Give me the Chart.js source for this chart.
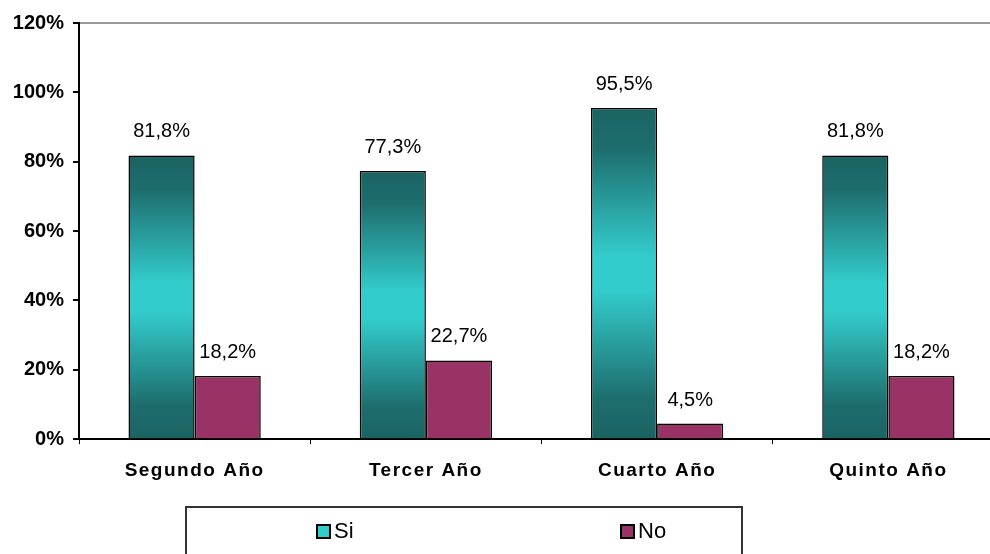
<!DOCTYPE html>
<html>
<head>
<meta charset="utf-8">
<script src="https://cdn.jsdelivr.net/npm/chart.js@4.4.1/dist/chart.umd.min.js"></script>
<style>
  html, body { margin: 0; padding: 0; background: #fff; overflow: hidden; }
  /* plot runs a little past the right edge, as in the original */
  #wrap { width: 1004px; height: 554px; }
</style>
</head>
<body>
<div id="wrap"><canvas id="chart"></canvas></div>
<script>
const categories = ["Segundo Año", "Tercer Año", "Cuarto Año", "Quinto Año"];
const siValues = [81.8, 77.3, 95.5, 81.8];
const noValues = [18.2, 22.7, 4.5, 18.2];
const yTicks = [0, 20, 40, 60, 80, 100, 120];

const FONT = "'Liberation Sans', Arial, sans-serif";

function pct(v) {
  return v.toFixed(1).replace(".", ",") + "%";
}

// vertical gradient per bar: dark teal at the ends, cyan in the middle
function siGradient(context) {
  const chart = context.chart;
  const y = chart.scales.y;
  if (!y || context.raw === undefined) return "#33cccc";
  const top = y.getPixelForValue(context.raw);
  const bottom = y.getPixelForValue(0);
  if (!isFinite(top) || !isFinite(bottom) || top === bottom) return "#33cccc";
  const g = chart.ctx.createLinearGradient(0, top, 0, bottom);
  g.addColorStop(0, "#1b6363");
  g.addColorStop(0.12, "#1e6d6d");
  g.addColorStop(0.45, "#33cccc");
  g.addColorStop(0.55, "#33cccc");
  g.addColorStop(0.88, "#1e6d6d");
  g.addColorStop(1, "#1b6363");
  return g;
}

const valueLabels = {
  id: "valueLabels",
  afterDatasetsDraw(chart) {
    const ctx = chart.ctx;
    ctx.save();
    ctx.font = "20px " + FONT;
    ctx.fillStyle = "#000";
    ctx.textAlign = "center";
    ctx.textBaseline = "alphabetic";
    chart.data.datasets.forEach((ds, i) => {
      chart.getDatasetMeta(i).data.forEach((bar, j) => {
        ctx.fillText(pct(ds.data[j]), bar.x, bar.y - 18);
      });
    });
    ctx.restore();
  },
};

const boxLegend = {
  id: "boxLegend",
  afterDraw(chart) {
    const ctx = chart.ctx;
    ctx.save();
    ctx.strokeStyle = "#333";
    ctx.lineWidth = 2;
    ctx.strokeRect(186, 507, 556, 60);
    ctx.font = "22px " + FONT;
    ctx.textBaseline = "middle";
    ctx.textAlign = "left";
    const items = [
      { x: 317, ds: chart.data.datasets[0], fill: "#33cccc" },
      { x: 621, ds: chart.data.datasets[1], fill: "#993366" },
    ];
    items.forEach((it) => {
      ctx.fillStyle = it.fill;
      ctx.fillRect(it.x, 525, 13, 13);
      ctx.strokeStyle = "#000";
      ctx.lineWidth = 2;
      ctx.strokeRect(it.x, 525, 13, 13);
      ctx.fillStyle = "#000";
      ctx.fillText(it.ds.label, it.x + 17, 532);
    });
    ctx.restore();
  },
};

new Chart("chart", {
  type: "bar",
  data: {
    labels: categories,
    datasets: [
      {
        label: "Si",
        data: siValues,
        backgroundColor: siGradient,
        borderColor: "#000",
        borderWidth: 1.5,
      },
      {
        label: "No",
        data: noValues,
        backgroundColor: "#993366",
        borderColor: "#000",
        borderWidth: 1.5,
      },
    ],
  },
  options: {
    responsive: true,
    maintainAspectRatio: false,
    animation: false,
    layout: { padding: { top: 23, right: 0, bottom: 57, left: 0 } },
    datasets: {
      bar: { barPercentage: 1, categoryPercentage: 0.572 },
    },
    plugins: {
      legend: { display: false },
      tooltip: { enabled: false },
    },
    scales: {
      x: {
        offset: true,
        afterFit(scale) {
          // wider letter spacing on the category labels
          if (!scale._spaced) {
            const orig = scale.drawLabels.bind(scale);
            scale.drawLabels = (area) => {
              scale.ctx.save();
              scale.ctx.letterSpacing = "1.5px";
              orig(area);
              scale.ctx.restore();
            };
            scale._spaced = true;
          }
        },
        grid: {
          offset: true,
          drawOnChartArea: false,
          drawTicks: true,
          tickLength: 5,
          color: "#000",
        },
        border: { display: true, color: "#000", width: 2 },
        ticks: {
          color: "#000",
          padding: 15,
          font: { family: FONT, size: 19, weight: "bold" },
        },
      },
      y: {
        min: 0,
        max: 120,
        afterBuildTicks(scale) {
          scale.ticks = yTicks.map((v) => ({ value: v }));
        },
        afterFit(scale) {
          scale.width = 79;
        },
        grid: {
          drawOnChartArea: true,
          drawTicks: true,
          tickLength: 6,
          lineWidth: 2,
          color: (c) => (c.tick && c.tick.value === 120 ? "#999999" : "rgba(0,0,0,0)"),
          tickColor: "#000",
        },
        border: { display: true, color: "#000", width: 2 },
        ticks: {
          color: "#000",
          padding: 9,
          font: { family: FONT, size: 20, weight: "bold" },
          callback: (v) => v + "%",
        },
      },
    },
  },
  plugins: [valueLabels, boxLegend],
});
</script>
</body>
</html>
